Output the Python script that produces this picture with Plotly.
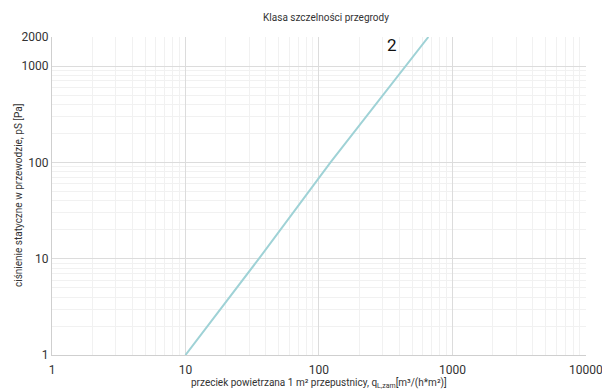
import math
import plotly.graph_objects as go

# data
leak_q = [10, 35.5, 122, 445, 660]      # m3/(h*m2)
pressure_p = [1, 10, 100, 1000, 2000]   # Pa
series_label = "2"
label_pos_q = 352
label_pos_p = 1650

x_tickvals = [1, 10, 100, 1000, 10000]
x_ticktext = ["1", "10", "100", "1000", "10000"]
y_tickvals = [1, 10, 100, 1000, 2000]
y_ticktext = ["1", "10", "100", "1000", "2000"]

x_minor = [m * 10 ** d for d in range(0, 4) for m in range(2, 10)]
y_minor = [m * 10 ** d for d in range(0, 4) for m in range(2, 10) if m * 10 ** d < 2000]

FONT = "Roboto, sans-serif"

W, H = 602, 389
ML, MR, MT, MB = 52, 16, 37, 34
PW, PH = W - ML - MR, H - MT - MB

fig = go.Figure()
fig.add_trace(go.Scatter(
    x=leak_q, y=pressure_p, mode="lines",
    line=dict(color="#9fd2d6", width=2),
    showlegend=False, hoverinfo="skip", cliponaxis=True,
))

fig.add_annotation(x=math.log10(label_pos_q), y=math.log10(label_pos_p),
                   xref="x", yref="y",
                   text=series_label, showarrow=False,
                   font=dict(size=17, color="#111", family=FONT))

# axis titles as annotations for precise placement
fig.add_annotation(x=0.5, y=-(383 - (H - MB)) / PH, xref="paper", yref="paper",
                   text="przeciek powietrzana 1 m² przepustnicy, q<sub>L,zam</sub>[m³/(h*m²)]",
                   showarrow=False, xanchor="center", yanchor="middle",
                   font=dict(size=10, color="#333", family=FONT))
fig.add_annotation(x=-(ML - 18) / PW, y=0.5, xref="paper", yref="paper",
                   text="ciśnienie statyczne w przewodzie, pS [Pa]",
                   showarrow=False, xanchor="center", yanchor="middle", textangle=-90,
                   font=dict(size=10, color="#333", family=FONT))

axis_common = dict(
    type="log", showline=True, linecolor="#cfcfcf", linewidth=1,
    gridcolor="#dcdcdc", gridwidth=1, zeroline=False, ticks="",
    automargin=False, ticklabeloverflow="allow",
    tickfont=dict(size=12, color="#333", family=FONT),
)

fig.update_xaxes(
    range=[0, 4.0005], tickvals=x_tickvals, ticktext=x_ticktext,
    ticklabelstandoff=4,
    minor=dict(tickvals=x_minor, showgrid=True, gridcolor="#f1f1f1", ticks=""),
    **axis_common,
)
fig.update_yaxes(
    range=[0, 3.30103], tickvals=y_tickvals, ticktext=y_ticktext,
    minor=dict(tickvals=y_minor, showgrid=True, gridcolor="#f1f1f1", ticks=""),
    **axis_common,
)

fig.update_layout(
    width=W, height=H,
    margin=dict(l=ML, r=MR, t=MT, b=MB),
    paper_bgcolor="white", plot_bgcolor="white",
    title=dict(text="Klasa szczelności przegrody", x=326 / W, xanchor="center",
               y=1 - 17 / H, yanchor="middle",
               font=dict(size=10, color="#333", family=FONT)),
)

fig.write_html(
    "out.html",
    config={"displayModeBar": False, "staticPlot": True},
    post_script="document.body.style.margin='0';document.body.style.overflow='hidden';",
)
